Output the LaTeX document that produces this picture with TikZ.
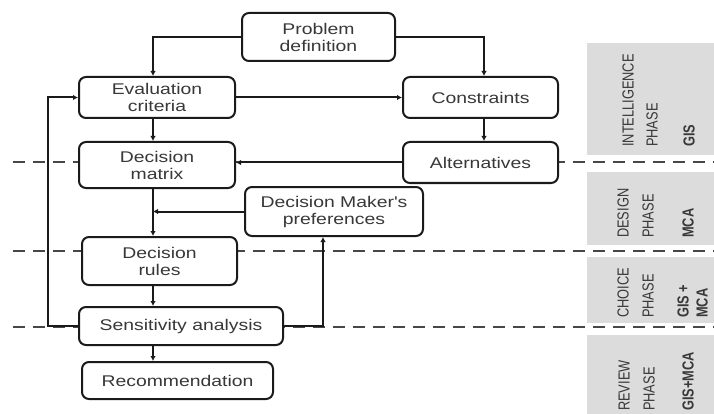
\documentclass[tikz,border=0pt]{standalone}
\usepackage{fontspec}
\setmainfont{Liberation Sans}
\newfontfamily\boxfont[FakeStretch=1.25]{Liberation Sans}
\newfontfamily\sidefont[FakeStretch=0.8]{Liberation Sans}
\usetikzlibrary{arrows.meta,calc}
\definecolor{txt}{HTML}{383838}
\definecolor{ln}{HTML}{1A1A1A}
\definecolor{panel}{HTML}{DCDCDC}
\definecolor{dash}{HTML}{474747}
\tikzset{
  box/.style={draw=ln, line width=2pt, rounded corners=7pt, fill=white,
    text=txt, align=center, inner sep=0pt,
    font=\boxfont\fontsize{15.5}{17}\selectfont},
  conn/.style={draw=ln, line width=2pt, -{Latex[length=5pt,width=5.5pt]}},
  phaseline/.style={draw=dash, line width=2pt, dash pattern=on 12pt off 8pt},
  side/.style={rotate=90, anchor=west, inner sep=0pt, text=txt,
    font=\sidefont\fontsize{16}{16}\selectfont},
  sideb/.style={side, font=\sidefont\bfseries\fontsize{16}{16}\selectfont}
}
\begin{document}
\begin{tikzpicture}[x=1pt,y=-1pt]
\useasboundingbox (0,0) rectangle (714,414);
% panels
\fill[panel] (587,43) rectangle (714,155);
\fill[panel] (587,172) rectangle (714,245);
\fill[panel] (587,257) rectangle (714,323);
\fill[panel] (587,335) rectangle (714,414);
% phase text
\node[side] (t1) at (628,147) {INTELLIGENCE};
\node[side] (t2) at (652,147) {PHASE};
\node[sideb] (t3) at (689,147) {GIS};
\node[side] (t4) at (623,238) {DESIGN};
\node[side] (t5) at (648,238) {PHASE};
\node[sideb] (t6) at (688,238) {MCA};
\node[side] (t7) at (623,318) {CHOICE};
\node[side] (t8) at (648,318) {PHASE};
\node[sideb] (t9) at (683,318) {GIS +};
\node[sideb] (t10) at (702,318) {MCA};
\node[side] (t11) at (624,411) {REVIEW};
\node[side] (t12) at (649,411) {PHASE};
\node[sideb] (t13) at (688,411) {GIS+MCA};
% phase separators
\coordinate (d1a) at (13,162); \coordinate (d1b) at (714,162);
\coordinate (d2a) at (13,251); \coordinate (d2b) at (714,251);
\coordinate (d3a) at (13,327); \coordinate (d3b) at (714,327);
\draw[phaseline] (d1a) -- (d1b);
\draw[phaseline] (d2a) -- (d2b);
\draw[phaseline] (d3a) -- (d3b);
% column coordinates
\coordinate (colL) at (153,0);
\coordinate (colR) at (484,0);
\coordinate (colP) at (323,0);
\coordinate (colF) at (48,0);
% boxes
\node[box, minimum width=153pt, minimum height=48pt] (pd) at (318.5,37) {Problem\\definition};
\node[box, minimum width=156pt, minimum height=41pt] (ev) at (157,97.5) {Evaluation\\criteria};
\node[box, minimum width=155pt, minimum height=41pt] (co) at (480.5,97.5) {Constraints};
\node[box, minimum width=156pt, minimum height=46pt] (dm) at (157,165) {Decision\\matrix};
\node[box, minimum width=155pt, minimum height=41pt] (al) at (480.5,162.5) {Alternatives};
\node[box, minimum width=178pt, minimum height=49pt] (dp) at (334,211.5) {Decision Maker's\\preferences};
\node[box, minimum width=155pt, minimum height=48pt] (dr) at (159.5,261) {Decision\\rules};
\node[box, minimum width=204pt, minimum height=38pt] (sa) at (181,326) {Sensitivity analysis};
\node[box, minimum width=191pt, minimum height=37pt] (re) at (177.5,380.5) {Recommendation};
% connectors
\draw[conn] (pd.west) -| (ev.north -| colL);
\draw[conn] (pd.east) -| (co.north -| colR);
\draw[conn] (ev.east) -- (co.west |- ev.east);
\draw[conn] (ev.south -| colL) -- (dm.north -| colL);
\draw[conn] (co.south -| colR) -- (al.north -| colR);
\draw[conn] (al.west) -- (al.west -| dm.east);
\draw[conn] (dm.south -| colL) -- (dr.north -| colL);
\draw[conn] (dp.west) -- (dp.west -| colL);
\draw[conn] (dr.south -| colL) -- (sa.north -| colL);
\draw[conn] (sa.south -| colL) -- (re.north -| colL);
\draw[conn] (sa.east) -| (dp.south -| colP);
\draw[conn] (sa.west) -- (sa.west -| colF) |- (ev.west);
\end{tikzpicture}
\end{document}
